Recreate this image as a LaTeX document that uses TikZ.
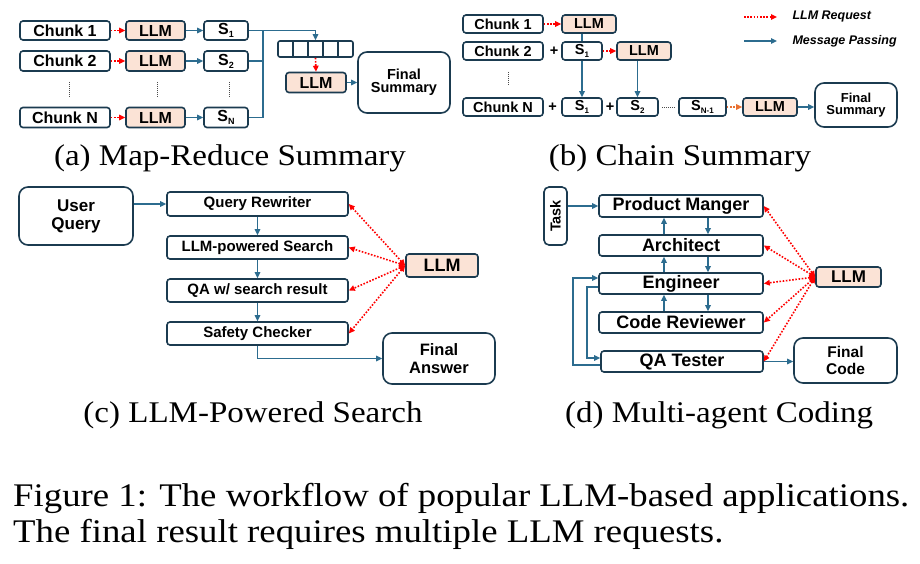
\documentclass[tikz,border=0pt]{standalone}
\usepackage{fontspec}
\usepackage{graphicx}
\setmainfont{Liberation Serif}
\setsansfont{Liberation Sans}
\usetikzlibrary{arrows.meta}
\definecolor{bd}{HTML}{1B3B50}
\definecolor{ab}{HTML}{2C6C8F}
\definecolor{pch}{HTML}{FBE3D6}
\definecolor{rq}{HTML}{FF0000}
\definecolor{og}{HTML}{E97132}
\newcommand\fs[1]{\fontsize{#1}{#1}\selectfont}
\newcommand\Ss[2]{S\raisebox{-0.35ex}{\fontsize{#1}{#1}\selectfont #2}}
\tikzset{
 bx/.style={draw=bd, line width=1.6pt, rounded corners=3pt, inner sep=0pt, fill=white, align=center},
 llmb/.style={bx, fill=pch},
 bigbx/.style={bx, rounded corners=9pt},
 ftip/.tip={Triangle[length=6pt,width=5.5pt]},
 msg/.style={draw=ab, line width=1.5pt, -ftip},
 msgline/.style={draw=ab, line width=1.5pt},
 req/.style={draw=rq, line width=1.6pt, dash pattern=on 1.6pt off 1.6pt, -ftip},
 reqb/.style={draw=rq, line width=1.6pt, dash pattern=on 1.6pt off 1.6pt, ftip-ftip},
 oreq/.style={draw=og, line width=1.6pt, dash pattern=on 1.6pt off 1.6pt, -ftip},
 vdots/.style={draw=black!70, line width=0.8pt, dash pattern=on 1pt off 1pt},
 subcap/.style={anchor=base, font=\rmfamily\fs{30}},
}
\begin{document}
\begin{tikzpicture}[x=1pt,y=-1pt]
\useasboundingbox[fill=white] (0,0) rectangle (920,564);

% ---------------- (a) Map-Reduce Summary ----------------
\begin{scope}[every node/.append style={font=\sffamily\bfseries\fs{16}}]
\node[bx, minimum width=90, minimum height=19] (c1a) at (65,30.5) {Chunk 1};
\node[bx, minimum width=90, minimum height=20] (c2a) at (65,61) {Chunk 2};
\node[bx, minimum width=90, minimum height=20] (cNa) at (65,117.5) {Chunk N};
\node[llmb, minimum width=59, minimum height=19] (l1a) at (155.5,30.5) {LLM};
\node[llmb, minimum width=59, minimum height=20] (l2a) at (155.5,61) {LLM};
\node[llmb, minimum width=59, minimum height=20] (lNa) at (155.5,117.5) {LLM};
\node[bx, minimum width=44, minimum height=19] (s1a) at (226,30.5) {\Ss{9}{1}};
\node[bx, minimum width=44, minimum height=20] (s2a) at (226,61) {\Ss{9}{2}};
\node[bx, minimum width=44, minimum height=20] (sNa) at (226,117.5) {\Ss{9}{N}};
\node[bx, rounded corners=2pt, minimum width=75, minimum height=16] (qa) at (315.5,49) {};
\node[llmb, minimum width=60, minimum height=20] (lRa) at (316,82.5) {LLM};
\node[bigbx, minimum width=92, minimum height=61, font=\sffamily\bfseries\fs{14.5}, text width=88] (fsa) at (404,82.5) {Final\\[-1pt]Summary};
\end{scope}
\foreach \xx in {293,308,323,338} \draw[bd, line width=1.3pt] (\xx,41.5) -- (\xx,56.5);
\draw[vdots] (69,82) -- (69,97);
\draw[vdots] (157,82) -- (157,97);
\draw[vdots] (229,82) -- (229,97);
\foreach \r in {1,2,N} {
 \draw[req] (c\r a) -- (l\r a);
 \draw[msg] (l\r a) -- (s\r a);
}
\coordinate (busa) at (263,30.5);
\draw[msgline] (sNa.east) -| (busa);
\draw[msgline] (s2a.east) -- (s2a.east -| busa);
\draw[msg] (s1a.east) -| (qa.north);
\draw[req] (qa.south) -- (lRa.north);
\draw[msg] (lRa.east) -- (fsa.west);
\node[subcap] (capa) at (230,166) {\scalebox{1.1}[1]{(a) Map-Reduce Summary}};

% ---------------- (b) Chain Summary ----------------
\begin{scope}[every node/.append style={font=\sffamily\bfseries\fs{14.5}}]
\node[bx, minimum width=80, minimum height=18] (c1b) at (503,24) {Chunk 1};
\node[llmb, minimum width=54, minimum height=18] (l1b) at (589,24) {LLM};
\node[bx, minimum width=80, minimum height=18] (c2b) at (503,51) {Chunk 2};
\node[inner sep=0] (p1b) at (554,51) {+};
\node[bx, minimum width=40, minimum height=18] (s1b) at (582,51) {\Ss{8}{1}};
\node[llmb, minimum width=54, minimum height=18] (l2b) at (644,51) {LLM};
\node[bx, minimum width=80, minimum height=18] (cNb) at (503,107) {Chunk N};
\node[inner sep=0] (p2b) at (552.5,107) {+};
\node[bx, minimum width=40, minimum height=18] (s1Nb) at (582,107) {\Ss{8}{1}};
\node[inner sep=0] (p3b) at (610,107) {+};
\node[bx, minimum width=41, minimum height=18] (s2b) at (637.5,107) {\Ss{8}{2}};
\node[bx, minimum width=47, minimum height=18] (sNb) at (702.5,107) {\Ss{8}{N-1}};
\node[llmb, minimum width=54, minimum height=18] (l3b) at (770,107) {LLM};
\node[bigbx, minimum width=82, minimum height=44, font=\sffamily\bfseries\fs{13}, text width=78] (fsb) at (856,105) {Final\\[-1pt]Summary};
\node[anchor=west, font=\sffamily\bfseries\itshape\fs{12.5}] (lg1) at (789,17) {LLM Request};
\node[anchor=west, font=\sffamily\bfseries\itshape\fs{12.5}] (lg2) at (789,41) {Message Passing};
\end{scope}
\draw[vdots] (508,72) -- (508,85);
\draw[vdots] (662,107) -- (676,107);
\draw[req] (c1b) -- (l1b);
\draw[req] (s1b) -- (l2b);
\draw[msgline] (s1b.north |- l1b.south) -- (s1b.north);
\draw[msg] (s1b.south) -- (s1Nb.north);
\draw[msg] (s2b.north |- l2b.south) -- (s2b.north);
\draw[oreq] (sNb) -- (l3b);
\draw[msg] (l3b.east) -- (l3b.east -| fsb.west);
\coordinate (lr1) at (744,17); \coordinate (lr2) at (777,17);
\coordinate (lm1) at (744,41); \coordinate (lm2) at (777,41);
\draw[req] (lr1) -- (lr2);
\draw[msg] (lm1) -- (lm2);
\node[subcap] (capb) at (680,166) {\scalebox{1.1}[1]{(b) Chain Summary}};

% ---------------- (c) LLM-Powered Search ----------------
\begin{scope}[every node/.append style={font=\sffamily\bfseries\fs{15}}]
\node[bigbx, minimum width=114, minimum height=58, font=\sffamily\bfseries\fs{17}, text width=110] (uq) at (76,216) {User\\[1pt]Query};
\node[bx, minimum width=181, minimum height=24] (qr) at (257.5,204) {Query Rewriter};
\node[bx, minimum width=181, minimum height=23] (ls) at (257.5,247.5) {LLM-powered Search};
\node[bx, minimum width=181, minimum height=23] (qw) at (257.5,290.5) {QA w/ search result};
\node[bx, minimum width=181, minimum height=23] (sc) at (257.5,333.5) {Safety Checker};
\node[llmb, minimum width=72, minimum height=23, font=\sffamily\bfseries\fs{18}] (llmc) at (442,265.5) {LLM};
\node[bigbx, minimum width=112, minimum height=51, font=\sffamily\bfseries\fs{16.5}, text width=108] (fa) at (439,358.5) {Final\\[1pt]Answer};
\end{scope}
\draw[msg] (uq.east |- qr.west) -- (qr.west);
\draw[msg] (qr.south) -- (ls.north);
\draw[msg] (ls.south) -- (qw.north);
\draw[msg] (qw.south) -- (sc.north);
\draw[msg] (sc.south) |- (fa.west);
\foreach \b in {qr,ls,qw,sc} \draw[reqb] (llmc.west) -- (\b.east);
\node[subcap] (capc) at (253,422) {\scalebox{1.1}[1]{(c) LLM-Powered Search}};

% ---------------- (d) Multi-agent Coding ----------------
\begin{scope}[every node/.append style={font=\sffamily\bfseries\fs{18}}]
\node[bx, rounded corners=5pt, minimum width=23, minimum height=58, font=\sffamily\bfseries\fs{14.5}] (task) at (555.5,216) {\rotatebox{90}{Task}};
\node[bx, minimum width=164, minimum height=22] (pm) at (681,206) {Product Manger};
\node[bx, minimum width=164, minimum height=21] (ar) at (681,245.5) {Architect};
\node[bx, minimum width=164, minimum height=21] (en) at (681,283.5) {Engineer};
\node[bx, minimum width=164, minimum height=21] (cr) at (681,322.5) {Code Reviewer};
\node[bx, minimum width=162, minimum height=21] (qt) at (682,361.5) {QA Tester};
\node[llmb, minimum width=65, minimum height=20, font=\sffamily\bfseries\fs{17}] (llmd) at (848.5,277) {LLM};
\node[bigbx, minimum width=103, minimum height=45, font=\sffamily\bfseries\fs{15.5}, text width=99] (fc) at (845.5,360.5) {Final\\[1pt]Code};
\end{scope}
\draw[msg] (task.east |- pm.west) -- (pm.west);
\coordinate (ux) at (664,0);
\coordinate (dx) at (708,0);
\draw[msg] (ar.north -| ux) -- (pm.south -| ux);
\draw[msg] (pm.south -| dx) -- (ar.north -| dx);
\draw[msg] (en.north -| ux) -- (ar.south -| ux);
\draw[msg] (ar.south -| dx) -- (en.north -| dx);
\draw[msg] (cr.north -| ux) -- (en.south -| ux);
\draw[msg] (en.south -| dx) -- (cr.north -| dx);
\coordinate (lo) at (573,0);
\coordinate (li) at (587,0);
\draw[msg] ([yshift=-3.5pt]qt.west) -- ([yshift=-3.5pt]qt.west -| lo) -- ([yshift=5.5pt]en.west -| lo) -- ([yshift=5.5pt]en.west);
\draw[msg] ([yshift=-3.5pt]en.west) -- ([yshift=-3.5pt]en.west -| li) -- ([yshift=3.5pt]qt.west -| li) -- ([yshift=3.5pt]qt.west);
\draw[msg] (qt.east) -- (qt.east -| fc.west);
\foreach \b in {pm,ar,en,cr,qt} \draw[reqb] (llmd.west) -- (\b.east);
\node[subcap] (capd) at (719,422) {\scalebox{1.1}[1]{(d) Multi-agent Coding}};

% ---------------- Figure caption ----------------
\node[anchor=base west, inner sep=0, font=\rmfamily\fs{33}] (fig1) at (13,506) {\scalebox{1.115}[1]{Figure 1: The workflow of popular LLM-based applications.}};
\node[anchor=base west, inner sep=0, font=\rmfamily\fs{33}] (fig2) at (13,542) {\scalebox{1.115}[1]{The final result requires multiple LLM requests.}};
\end{tikzpicture}
\end{document}
